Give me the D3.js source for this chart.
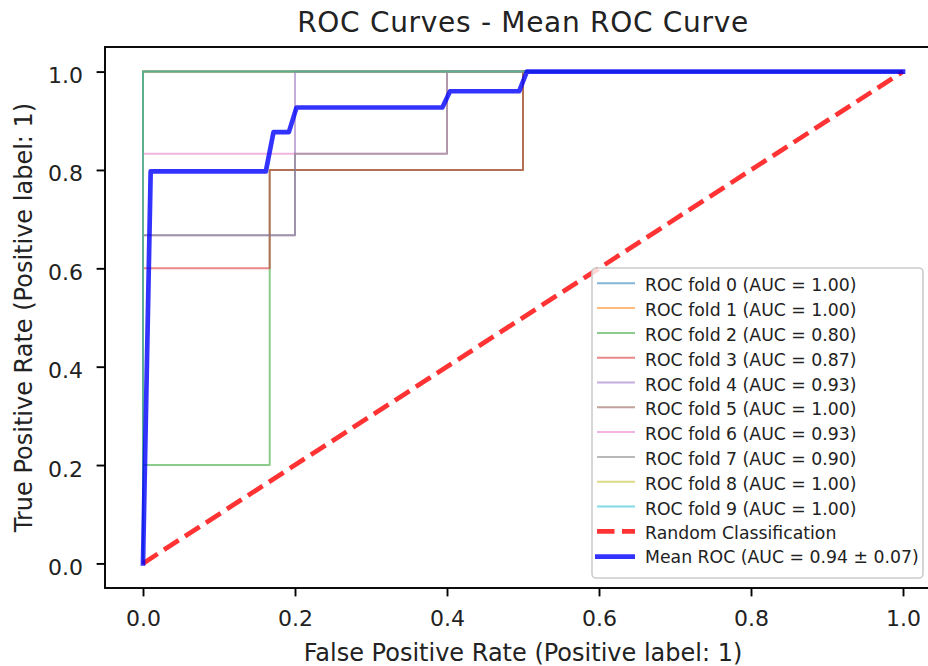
<!DOCTYPE html>
<html>
<head>
<meta charset="utf-8">
<script src="https://cdn.jsdelivr.net/npm/d3@7"></script>
<style>
  body { margin: 0; background: #fff; }
  text { font-family: "DejaVu Sans", sans-serif; fill: #222; }
</style>
</head>
<body>
<div id="chart"></div>
<script>
// data
var foldLabels = ["ROC fold 0", "ROC fold 1", "ROC fold 2", "ROC fold 3", "ROC fold 4",
                  "ROC fold 5", "ROC fold 6", "ROC fold 7", "ROC fold 8", "ROC fold 9"];
var foldAUC = [1.00, 1.00, 0.80, 0.87, 0.93, 1.00, 0.93, 0.90, 1.00, 1.00];
var foldFPR = [
  [0, 0, 1],
  [0, 0, 1],
  [0, 0, 0.1667, 0.1667, 0.5, 0.5, 1],
  [0, 0, 0.1667, 0.1667, 0.5, 0.5, 1],
  [0, 0, 0.2, 0.2, 1],
  [0, 0, 1],
  [0, 0, 0.4, 0.4, 1],
  [0, 0, 0.2, 0.2, 0.4, 0.4, 1],
  [0, 0, 1],
  [0, 0, 1]
];
var foldTPR = [
  [0, 1, 1],
  [0, 1, 1],
  [0, 0.2, 0.2, 0.8, 0.8, 1, 1],
  [0, 0.6, 0.6, 0.8, 0.8, 1, 1],
  [0, 0.667, 0.667, 1, 1],
  [0, 1, 1],
  [0, 0.833, 0.833, 1, 1],
  [0, 0.667, 0.667, 0.833, 0.833, 1, 1],
  [0, 1, 1],
  [0, 1, 1]
];
var chanceFPR = [0, 1];
var chanceTPR = [0, 1];
var meanFPR = [0, 0.0101, 0.1616, 0.1717, 0.1919, 0.2020, 0.3939, 0.4040, 0.4949, 0.5051, 1];
var meanTPR = [0, 0.797, 0.797, 0.877, 0.877, 0.927, 0.927, 0.960, 0.960, 1.0, 1.0];
var meanAUC = 0.94;
var stdAUC = 0.07;
var xTicks = [0, 0.2, 0.4, 0.6, 0.8, 1.0];
var yTicks = [0, 0.2, 0.4, 0.6, 0.8, 1.0];

// SVG layout
var svgWidth = 928;
var svgHeight = 666;
var margin = { top: 47, left: 105 };
var width = 836;
var height = 541;

var svg = d3.select("#chart")
  .append("svg")
  .attr("width", svgWidth)
  .attr("height", svgHeight);

var chartGroup = svg.append("g")
  .attr("transform", `translate(${margin.left}, ${margin.top})`);

var xScale = d3.scaleLinear().domain([-0.05, 1.05]).range([0, width]);
var yScale = d3.scaleLinear().domain([-0.05, 1.05]).range([height, 0]);

var colors = d3.schemeCategory10;
var foldOpacity = 0.55;
var foldWidth = 2;

var line = d3.line()
  .x(d => xScale(d[0]))
  .y(d => yScale(d[1]));

function zipXY(xs, ys) {
  return xs.map((x, i) => [x, ys[i]]);
}

// fold curves
foldFPR.forEach(function(fpr, i) {
  chartGroup.append("path")
    .datum(zipXY(fpr, foldTPR[i]))
    .attr("d", line)
    .attr("fill", "none")
    .attr("stroke", colors[i])
    .attr("stroke-opacity", foldOpacity)
    .attr("stroke-width", foldWidth)
    .attr("stroke-linejoin", "round");
});

// chance line
chartGroup.append("path")
  .datum(zipXY(chanceFPR, chanceTPR))
  .attr("d", line)
  .attr("fill", "none")
  .attr("stroke", "#ff0000")
  .attr("stroke-opacity", 0.8)
  .attr("stroke-width", 4.7)
  .attr("stroke-dasharray", "17.5,7.5");

// mean ROC
chartGroup.append("path")
  .datum(zipXY(meanFPR, meanTPR))
  .attr("d", line)
  .attr("fill", "none")
  .attr("stroke", "#0000ff")
  .attr("stroke-opacity", 0.8)
  .attr("stroke-width", 4.7)
  .attr("stroke-linejoin", "round")
  .attr("stroke-linecap", "square");

// axes
var bottomAxis = d3.axisBottom(xScale)
  .tickValues(xTicks)
  .tickFormat(d3.format(".1f"))
  .tickSize(8.4)
  .tickSizeOuter(0);
var leftAxis = d3.axisLeft(yScale)
  .tickValues(yTicks)
  .tickFormat(d3.format(".1f"))
  .tickSize(8.4)
  .tickSizeOuter(0);

var xAxis = chartGroup.append("g")
  .attr("transform", `translate(0, ${height})`)
  .call(bottomAxis);
xAxis.selectAll("text")
  .attr("y", 38)
  .attr("dy", 0)
  .style("font-size", "22px");

var yAxis = chartGroup.append("g")
  .call(leftAxis);
yAxis.selectAll("text")
  .attr("x", -22)
  .attr("dy", 11)
  .style("font-size", "22px");

[xAxis, yAxis].forEach(function(ax) {
  ax.select(".domain").remove();
  ax.selectAll(".tick line").attr("stroke", "#000").attr("stroke-width", 1.9);
  ax.selectAll("text").attr("font-family", null);
});

// frame (right side falls outside the picture)
chartGroup.append("rect")
  .attr("x", 0)
  .attr("y", 0)
  .attr("width", width)
  .attr("height", height)
  .attr("fill", "none")
  .attr("stroke", "#000")
  .attr("stroke-width", 1.9);

// title and axis labels
svg.append("text")
  .attr("x", margin.left + width / 2)
  .attr("y", 32)
  .attr("text-anchor", "middle")
  .style("font-size", "28px")
  .style("letter-spacing", "0.7px")
  .text("ROC Curves - Mean ROC Curve");

svg.append("text")
  .attr("x", margin.left + width / 2)
  .attr("y", 661)
  .attr("text-anchor", "middle")
  .style("font-size", "24px")
  .text("False Positive Rate (Positive label: 1)");

svg.append("text")
  .attr("transform", `translate(32, ${margin.top + height / 2}) rotate(-90)`)
  .attr("text-anchor", "middle")
  .style("font-size", "24px")
  .text("True Positive Rate (Positive label: 1)");

// legend
var legendItems = foldLabels.map((name, i) => ({
  label: `${name} (AUC = ${foldAUC[i].toFixed(2)})`,
  color: colors[i], opacity: foldOpacity, width: foldWidth, dash: null
}));
legendItems.push({ label: "Random Classification", color: "#ff0000", opacity: 0.8, width: 4.7, dash: "17.5,7.5" });
legendItems.push({ label: `Mean ROC (AUC = ${meanAUC.toFixed(2)} ± ${stdAUC.toFixed(2)})`,
  color: "#0000ff", opacity: 0.8, width: 4.7, dash: null });

var legend = svg.append("g");
legend.append("rect")
  .attr("x", 592)
  .attr("y", 268)
  .attr("width", 331)
  .attr("height", 310)
  .attr("rx", 4)
  .attr("fill", "#fff")
  .attr("fill-opacity", 0.8)
  .attr("stroke", "#cccccc")
  .attr("stroke-width", 1.6);

legendItems.forEach(function(item, i) {
  var rowY = i < 11 ? 283.3 + i * 24.8 : 556.7;
  legend.append("line")
    .attr("x1", i === 11 ? 595 : 597)
    .attr("x2", 635)
    .attr("y1", rowY)
    .attr("y2", rowY)
    .attr("stroke", item.color)
    .attr("stroke-opacity", item.opacity)
    .attr("stroke-width", item.width)
    .attr("stroke-dasharray", item.dash);
  legend.append("text")
    .attr("x", 645)
    .attr("y", rowY + (i === 11 ? 6 : 8))
    .style("font-size", "17.3px")
    .text(item.label);
});
</script>
</body>
</html>
